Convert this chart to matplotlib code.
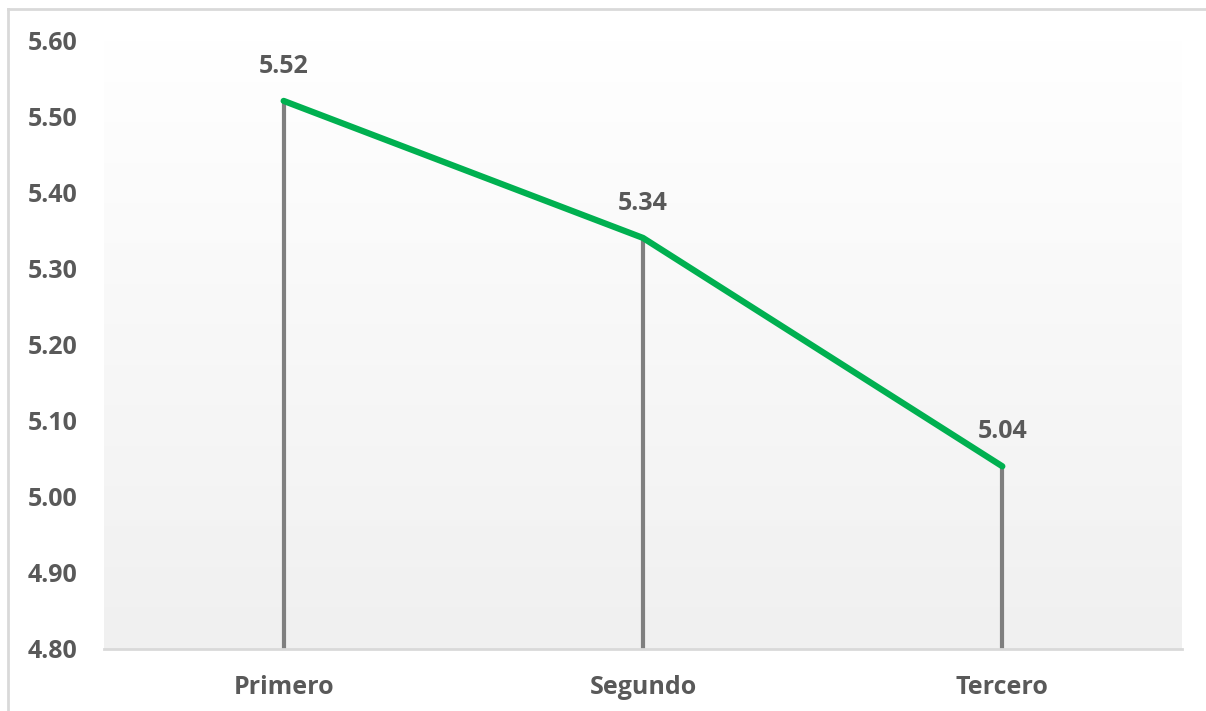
import numpy as np
import matplotlib
matplotlib.use("Agg")
import matplotlib.pyplot as plt
from matplotlib.lines import Line2D
from matplotlib.colors import LinearSegmentedColormap

# Datos
categorias = ["Primero", "Segundo", "Tercero"]
valores = [5.52, 5.34, 5.04]
ticks_y = [4.80, 4.90, 5.00, 5.10, 5.20, 5.30, 5.40, 5.50, 5.60]

plt.rcParams['font.family'] = ['Open Sans', 'DejaVu Sans']
gris_texto = '#595959'

W, H = 1206, 711
fig = plt.figure(figsize=(W / 100, H / 100), dpi=100)
ax = fig.add_axes([104 / W, 62 / H, (1182 - 104) / W, (649 - 40) / H])

x = np.arange(len(categorias))
ax.set_xlim(-0.5, len(categorias) - 0.5)
ax.set_ylim(4.80, 5.60)

# Fondo degradado del area de trazado (blanco arriba, gris claro abajo)
degradado = LinearSegmentedColormap.from_list('fondo', ['#ffffff', '#f0f0f0'])
ax.imshow(np.linspace(0.0, 1.0, 256).reshape(-1, 1),
          extent=(-0.5, len(categorias) - 0.5, 4.80, 5.60),
          aspect='auto', cmap=degradado, origin='upper', zorder=0)

# Lineas de caida y serie
ax.vlines(x, 4.80, valores, color='#7f7f7f', linewidth=3, zorder=2)
ax.plot(x, valores, color='#00b050', linewidth=4.5, solid_capstyle='round', zorder=3)

for xi, v in zip(x, valores):
    ax.annotate(f"{v:.2f}", (xi, v), xytext=(0, 25), textcoords='offset points',
                ha='center', va='center', fontsize=18, fontweight='bold', color=gris_texto)

ax.set_xticks(x)
ax.set_xticklabels(categorias)
ax.set_yticks(ticks_y)
ax.set_yticklabels([f"{t:.2f}" for t in ticks_y])
ax.tick_params(axis='both', length=0, labelsize=18, labelcolor=gris_texto)
ax.tick_params(axis='y', pad=19)
ax.tick_params(axis='x', pad=19)
for lab in ax.get_xticklabels() + ax.get_yticklabels():
    lab.set_fontweight('bold')

for s in ['top', 'right', 'left']:
    ax.spines[s].set_visible(False)
ax.spines['bottom'].set_color('#d9d9d9')
ax.spines['bottom'].set_linewidth(2)

# Borde exterior del grafico
fig.add_artist(Line2D([8 / W, 1.0], [1 - 9 / H, 1 - 9 / H], color='#d9d9d9', linewidth=2))
fig.add_artist(Line2D([8 / W, 8 / W], [0, 1 - 9 / H], color='#d9d9d9', linewidth=2))

fig.savefig('out.png', dpi=100)
